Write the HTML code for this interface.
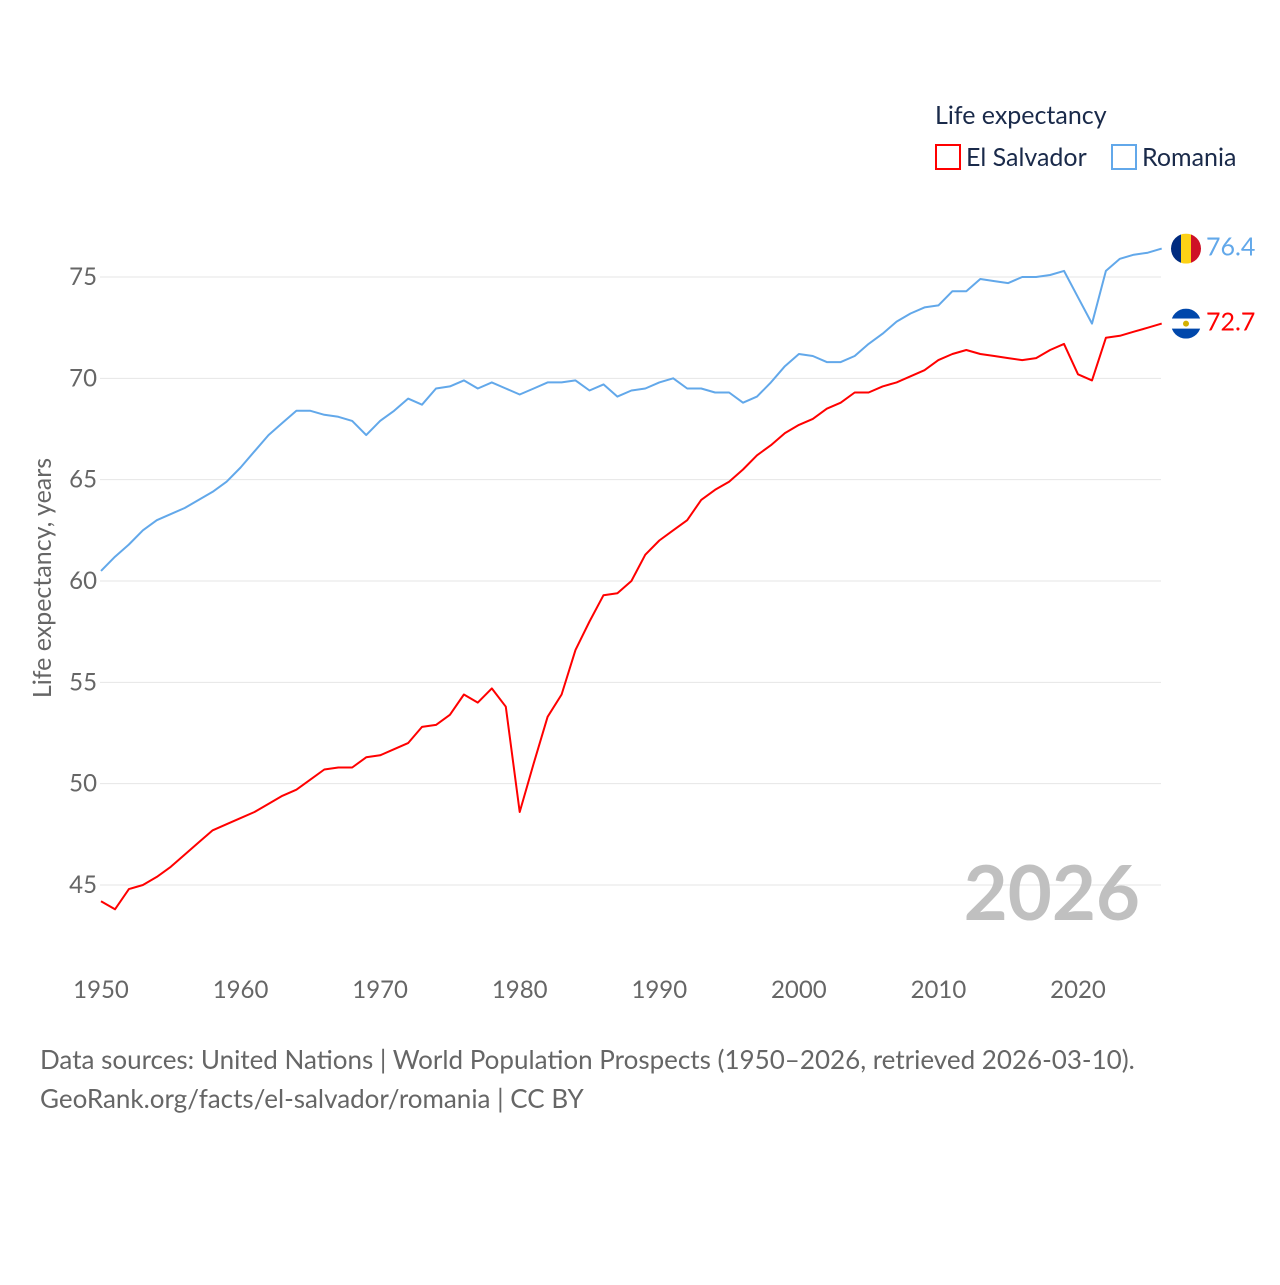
<!DOCTYPE html>
<html><head><meta charset="utf-8"><style>
body{margin:0;background:#fff;width:1280px;height:1280px;overflow:hidden;font-family:"Liberation Sans",sans-serif}
</style></head><body>
<svg id="chart" width="1280" height="1280" xmlns="http://www.w3.org/2000/svg" font-family="Lato, 'Liberation Sans', sans-serif">
<g id="grid"></g>
<g id="yticks"></g>
<g id="xticks"></g>
<text transform="translate(51,578) rotate(-90)" text-anchor="middle" font-size="25" fill="#666">Life expectancy, years</text>
<text x="1140" y="920" text-anchor="end" font-size="76" font-weight="bold" fill="#c0c0c0">2026</text>
<g>
<text x="935" y="124" font-size="25" fill="#1a2a4a">Life expectancy</text>
<rect x="936" y="145" width="24" height="24" fill="none" stroke="#ff0000" stroke-width="2"/>
<text x="966" y="166" font-size="25" fill="#1a2a4a">El Salvador</text>
<rect x="1112" y="145" width="24" height="24" fill="none" stroke="#62a8ea" stroke-width="2"/>
<text x="1142" y="166" font-size="25" fill="#1a2a4a">Romania</text>
</g>
<g id="series"></g>
<g id="ends"></g>
<text x="40" y="1069" font-size="26" fill="#666">Data sources: United Nations | World Population Prospects (1950–2026, retrieved 2026-03-10).</text>
<text x="40" y="1108" font-size="26" fill="#666">GeoRank.org/facts/el-salvador/romania | CC BY</text>
</svg>
<script>
const years=[];for(let y=1950;y<=2026;y++)years.push(y);
const romania=[60.5,61.2,61.8,62.5,63.0,63.3,63.6,64.0,64.4,64.9,65.6,66.4,67.2,67.8,68.4,68.4,68.2,68.1,67.9,67.2,67.9,68.4,69.0,68.7,69.5,69.6,69.9,69.5,69.8,69.5,69.2,69.5,69.8,69.8,69.9,69.4,69.7,69.1,69.4,69.5,69.8,70.0,69.5,69.5,69.3,69.3,68.8,69.1,69.8,70.6,71.2,71.1,70.8,70.8,71.1,71.7,72.2,72.8,73.2,73.5,73.6,74.3,74.3,74.9,74.8,74.7,75.0,75.0,75.1,75.3,74.0,72.7,75.3,75.9,76.1,76.2,76.4];
const elsalvador=[44.2,43.8,44.8,45.0,45.4,45.9,46.5,47.1,47.7,48.0,48.3,48.6,49.0,49.4,49.7,50.2,50.7,50.8,50.8,51.3,51.4,51.7,52.0,52.8,52.9,53.4,54.4,54.0,54.7,53.8,48.6,51.0,53.3,54.4,56.6,58.0,59.3,59.4,60.0,61.3,62.0,62.5,63.0,64.0,64.5,64.9,65.5,66.2,66.7,67.3,67.7,68.0,68.5,68.8,69.3,69.3,69.6,69.8,70.1,70.4,70.9,71.2,71.4,71.2,71.1,71.0,70.9,71.0,71.4,71.7,70.2,69.9,72.0,72.1,72.3,72.5,72.7];
const yTicks=[45,50,55,60,65,70,75];
const xTicks=[1950,1960,1970,1980,1990,2000,2010,2020];
const NS='http://www.w3.org/2000/svg';
const X=y=>101+(y-1950)*(1078-101)/70;
const Y=v=>885-(v-45)*(885-277)/30;
function mk(tag,attrs,parent,text){const e=document.createElementNS(NS,tag);for(const k in attrs)e.setAttribute(k,attrs[k]);if(text!==undefined)e.textContent=text;parent.appendChild(e);return e;}
const grid=document.getElementById('grid'),yt=document.getElementById('yticks'),xt=document.getElementById('xticks');
yTicks.forEach(t=>{
 const l=mk('line',{x1:100,x2:1161,y1:Y(t),y2:Y(t),stroke:'#e6e6e6','stroke-width':1},grid);
 
 
 const tx=mk('text',{x:97,y:Y(t)+8,'text-anchor':'end','font-size':24,fill:'#666'},yt,t);
 
 
});
xTicks.forEach(t=>{
 const tx=mk('text',{x:X(t),y:998,'text-anchor':'middle','font-size':24,fill:'#666'},xt,t);
 
 
});
const ser=document.getElementById('series');
function line(vals,color,name){
 const d=vals.map((v,i)=>(i?'L':'M')+X(years[i]).toFixed(1)+','+Y(v).toFixed(1)).join('');
 const p=mk('path',{d:d,fill:'none',stroke:color,'stroke-width':2,'stroke-linejoin':'round'},ser);
 
 
}
line(romania,'#62a8ea','romania-line');
line(elsalvador,'#ff0000','el-salvador-line');
const ends=document.getElementById('ends');
function endLabel(vals,color,name,flag){
 const v=vals[vals.length-1],cy=Y(v),cx=1186;
 const g=mk('g',{},ends);
 
 
 const id='clip-'+name;
 const cp=mk('clipPath',{id:id},g);mk('circle',{cx:cx,cy:cy,r:15},cp);
 const gg=mk('g',{'clip-path':'url(#'+id+')'},g);
 if(flag==='ro'){
  mk('rect',{x:cx-15,y:cy-15,width:10,height:30,fill:'#002b7f'},gg);
  mk('rect',{x:cx-5,y:cy-15,width:10,height:30,fill:'#fcd116'},gg);
  mk('rect',{x:cx+5,y:cy-15,width:10,height:30,fill:'#ce1126'},gg);
 }else{
  mk('rect',{x:cx-15,y:cy-15,width:30,height:10,fill:'#0047ab'},gg);
  mk('rect',{x:cx-15,y:cy-5,width:30,height:10,fill:'#fff'},gg);
  mk('rect',{x:cx-15,y:cy+5,width:30,height:10,fill:'#0047ab'},gg);
  mk('circle',{cx:cx,cy:cy,r:3,fill:'#d4b000'},gg);
 }
 const t=mk('text',{x:1206,y:cy+7,'font-size':25,fill:color},ends,v.toFixed(1));
 
 
}
endLabel(romania,'#62a8ea','romania','ro');
endLabel(elsalvador,'#ff0000','el-salvador','sv');
</script>
</body></html>
